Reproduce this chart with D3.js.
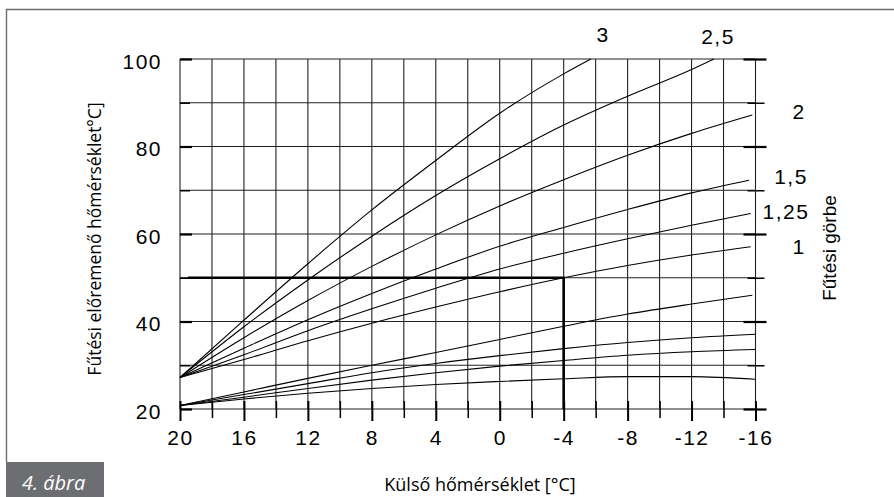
<!DOCTYPE html>
<html><head><meta charset="utf-8">
<script src="https://cdn.jsdelivr.net/npm/d3@7"></script>
<style>
  body { margin:0; background:#fff; }
  svg text { font-family:"Liberation Sans", Arial, sans-serif; fill:#000; }
  .num { font-size:21px; letter-spacing:1.5px; }
</style>
</head>
<body>
<svg width="894" height="497"></svg>
<script>
// tengelyek
var xGrid   = d3.range(20, -17, -2);              // 20, 18, ... -16
var xLabels = [20, 16, 12, 8, 4, 0, -4, -8, -12, -16];
var xMinor  = [18, 14, 10, 6, 2, -2, -6, -10, -14];
var yGrid   = [20, 30, 40, 50, 60, 70, 80, 90, 100];
var yLabels = [20, 40, 60, 80, 100];
var yMinor  = [30, 50, 70, 90];

// fűtési görbék: [külső hőmérséklet, előremenő hőmérséklet]
var c3   = [[20,27.2],[16,40.3],[12,53.2],[8,65.5],[4,76.8],[0,87.6],[-4,96.6],[-5.7,100]];
var c25  = [[20,27.2],[16,38.8],[12,49.5],[8,59.5],[4,68.8],[0,77.2],[-4,84.9],[-8,91.5],[-12,97.6],[-13.4,100]];
var c2   = [[20,27.2],[16,36.3],[12,44.8],[8,52.6],[4,59.8],[0,66.4],[-4,72.4],[-8,78],[-12,83],[-15.8,87.2]];
var c15  = [[20,27.2],[16,33.9],[12,40.4],[8,46.4],[4,52],[0,57.2],[-4,61.5],[-8,65.6],[-12,69.4],[-15.6,72.3]];
var c125 = [[20,27.2],[16,32.4],[12,37.9],[8,42.9],[4,47.6],[0,52],[-4,55.6],[-8,58.9],[-12,62],[-15.7,64.7]];
var c1   = [[20,27.2],[16,31.3],[12,35.6],[8,39.6],[4,43.3],[0,46.8],[-4,50],[-8,52.8],[-12,55.2],[-15.7,57.1]];
var low1 = [[20,20.8],[16,23.9],[12,27],[8,30],[4,32.9],[0,35.9],[-4,38.9],[-8,41.7],[-12,44],[-15.8,46]];
var low2 = [[20,20.8],[16,23.3],[12,25.8],[8,28.3],[4,30.4],[0,32.2],[-4,33.8],[-8,35.2],[-12,36.3],[-16,37.1]];
var low3 = [[20,20.8],[16,22.7],[12,24.7],[8,26.6],[4,28.3],[0,29.8],[-4,31.1],[-8,32.3],[-12,33.1],[-16,33.6]];
var low4 = [[20,20.8],[16,22.3],[12,23.6],[8,24.7],[4,25.6],[0,26.3],[-4,26.9],[-8,27.4],[-12,27.4],[-16,26.8]];
var curves = [c3, c25, c2, c15, c125, c1, low1, low2, low3, low4];
var curveNames = ["3", "2,5", "2", "1,5", "1,25", "1"];

// példa: -4 °C -> 50 °C
var example = [[19.5,50],[-4,50],[-4,20]];

var svg = d3.select("svg");
var x = d3.scaleLinear().domain([20, -16]).range([180, 755.5]);
var y = d3.scaleLinear().domain([20, 100]).range([409, 59]);
var plain = function(d) { return String(d); };   // sima kötőjel, nem U+2212

// keret + ábra felirat
svg.append("path").attr("d", "M6.5,462V9.5H894")
  .attr("fill", "none").attr("stroke", "#6d6d6d").attr("stroke-width", 1.4);
svg.append("rect").attr("x", 6).attr("y", 462).attr("width", 98).attr("height", 35)
  .attr("fill", "#6d6e72");
svg.append("text").attr("x", 22).attr("y", 490)
  .style("font-family", "'Open Sans', sans-serif").style("font-style", "italic")
  .style("font-size", "20px").style("fill", "#fff")
  .text("4. ábra");

// rács
svg.append("g").selectAll("line").data(xGrid).enter().append("line")
  .attr("x1", d => x(d)).attr("x2", d => x(d))
  .attr("y1", y(100)).attr("y2", y(20))
  .attr("stroke", "#222").attr("stroke-width", 1.1);
svg.append("g").selectAll("line").data(yGrid).enter().append("line")
  .attr("x1", x(20)).attr("x2", x(-16))
  .attr("y1", d => y(d)).attr("y2", d => y(d))
  .attr("stroke", "#222").attr("stroke-width", 1.1);

// bal tengely
var gL = svg.append("g").attr("transform", "translate(" + x(20) + ",0)");
gL.call(d3.axisLeft(y).tickValues(yLabels).tickSize(10).tickFormat(plain));
gL.select(".domain").remove();
gL.selectAll(".tick line").attr("x2", 12).attr("stroke", "#000").attr("stroke-width", 2.2);
gL.selectAll(".tick text").attr("class", "num").attr("x", -18).attr("dy", "0.45em");
var gLm = svg.append("g").attr("transform", "translate(" + x(20) + ",0)");
gLm.call(d3.axisLeft(y).tickValues(yMinor).tickSize(8).tickFormat(""));
gLm.select(".domain").remove();
gLm.selectAll(".tick line").attr("x2", 10).attr("stroke", "#000").attr("stroke-width", 1.5);

// jobb tengely
var gR = svg.append("g").attr("transform", "translate(" + x(-16) + ",0)");
gR.call(d3.axisRight(y).tickValues(yLabels).tickSize(11).tickFormat(""));
gR.select(".domain").remove();
gR.selectAll(".tick line").attr("x1", -12).attr("stroke", "#000").attr("stroke-width", 2.2);
var gRm = svg.append("g").attr("transform", "translate(" + x(-16) + ",0)");
gRm.call(d3.axisRight(y).tickValues(yMinor).tickSize(9).tickFormat(""));
gRm.select(".domain").remove();
gRm.selectAll(".tick line").attr("x1", -8).attr("stroke", "#000").attr("stroke-width", 1.5);

// alsó tengely
var gB = svg.append("g").attr("transform", "translate(0," + y(20) + ")");
gB.call(d3.axisBottom(x).tickValues(xLabels).tickSize(12).tickFormat(plain));
gB.select(".domain").remove();
gB.selectAll(".tick line").attr("y1", -8).attr("stroke", "#000").attr("stroke-width", 2);
gB.selectAll(".tick text").attr("class", "num").attr("y", 36).attr("dy", 0);
var gBm = svg.append("g").attr("transform", "translate(0," + y(20) + ")");
gBm.call(d3.axisBottom(x).tickValues(xMinor).tickSize(9).tickFormat(""));
gBm.select(".domain").remove();
gBm.selectAll(".tick line").attr("y1", -8).attr("stroke", "#000").attr("stroke-width", 1.5);

// görbék
var line = d3.line().x(d => x(d[0])).y(d => y(d[1])).curve(d3.curveMonotoneX);
svg.append("g").selectAll("path").data(curves).enter().append("path")
  .attr("d", line).attr("fill", "none").attr("stroke", "#000").attr("stroke-width", 1.1);

// példa vonal
svg.append("path").attr("d", d3.line().x(d => x(d[0])).y(d => y(d[1]))(example))
  .attr("fill", "none").attr("stroke", "#000").attr("stroke-width", 2.6);

// görbe feliratok
var labelPos = [[603,42],[718,44],[799,119],[791,184],[786,219],[799,254]];
svg.append("g").selectAll("text").data(curveNames).enter().append("text")
  .attr("class", "num").attr("text-anchor", "middle")
  .attr("x", (d, i) => labelPos[i][0]).attr("y", (d, i) => labelPos[i][1])
  .text(d => d);

// tengelycímek
svg.append("text").attr("transform", "translate(101,239) rotate(-90)")
  .attr("text-anchor", "middle")
  .style("font-family", "'Open Sans', sans-serif").style("font-size", "17.5px")
  .text("Fűtési előremenő hőmérséklet°C]");
svg.append("text").attr("transform", "translate(836,248) rotate(-90)")
  .attr("text-anchor", "middle").style("font-size", "19px")
  .text("Fűtési görbe");
svg.append("text").attr("x", 480).attr("y", 491).attr("text-anchor", "middle")
  .style("font-family", "'Open Sans', sans-serif").style("font-size", "18px")
  .text("Külső hőmérséklet [°C]");
</script>
</body></html>
